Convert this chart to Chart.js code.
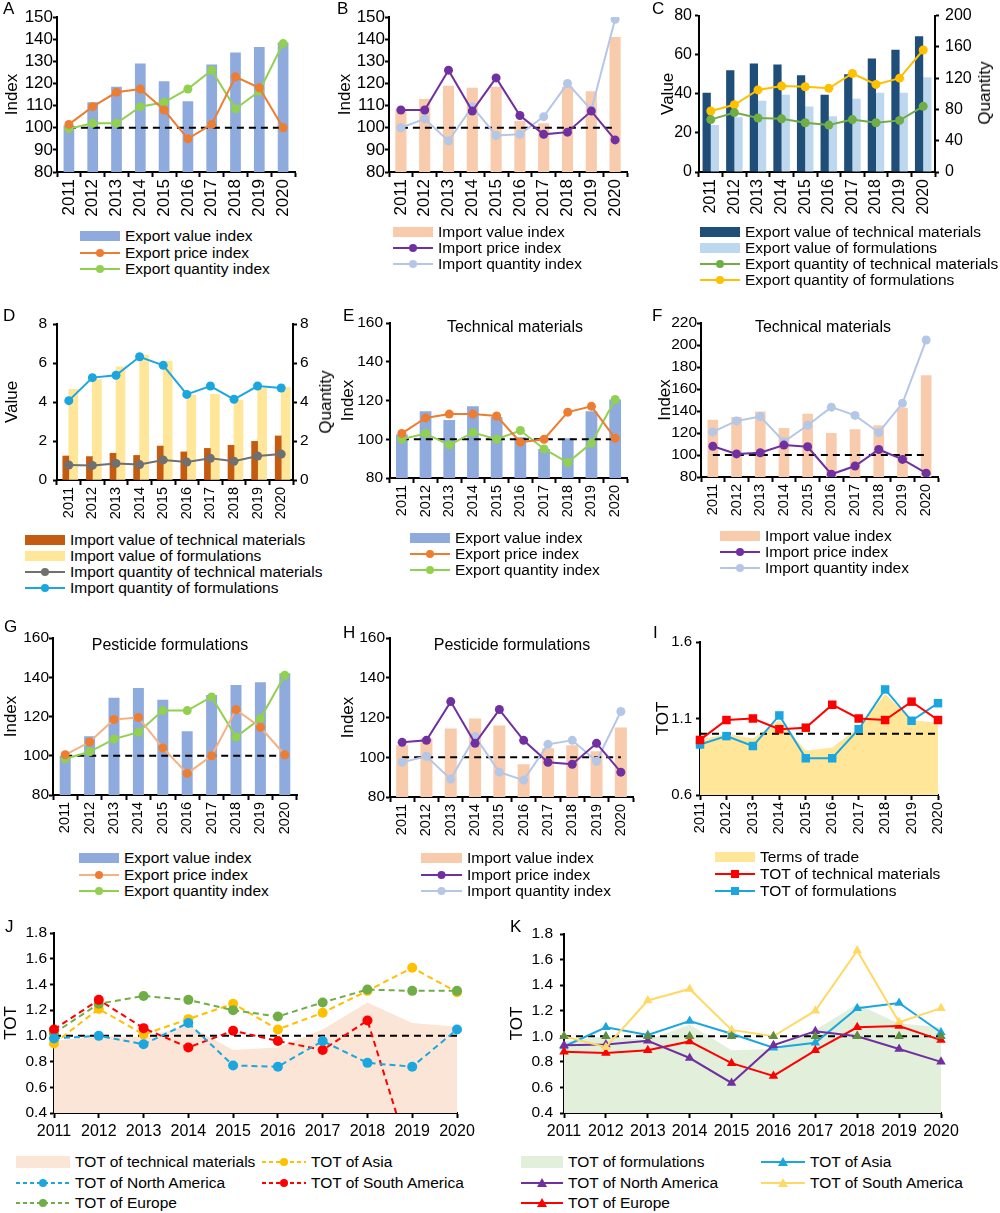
<!DOCTYPE html>
<html>
<head>
<meta charset="utf-8">
<script src="https://cdn.jsdelivr.net/npm/chart.js@4.4.1/dist/chart.umd.min.js"></script>
<style>
  body { margin: 0; background: #fff; font-family: "Liberation Sans", Arial, sans-serif; }
  #page { position: relative; width: 1000px; height: 1213px; overflow: hidden; background: #fff; }
  canvas { position: absolute; }
  .tag { position: absolute; font-size: 17px; line-height: 17px; color: #000; }
  .ttl { position: absolute; font-size: 16px; line-height: 18px; transform: translateX(-50%); white-space: nowrap; }
  .vt { position: absolute; font-size: 17px; line-height: 20px; white-space: nowrap; transform: translate(-50%, -50%) rotate(-90deg); }
  .leg { position: absolute; display: flex; align-items: center; height: 18px; font-size: 15.5px; white-space: nowrap; }
  .leg svg { margin-right: 5px; flex: none; }
</style>
</head>
<body>
<div id="page"></div>
<script>
// values
const years = ['2011', '2012', '2013', '2014', '2015', '2016', '2017', '2018', '2019', '2020'];
const base100 = [100, 100, 100, 100, 100, 100, 100, 100, 100, 100];
const base1 = [1, 1, 1, 1, 1, 1, 1, 1, 1, 1];

// A - exports, all pesticides
const aValue = [101, 111.5, 118.5, 129, 121, 112, 128.5, 134, 136.5, 138.5];
const aPrice = [101.5, 109.5, 116, 117.5, 108, 95, 101.5, 123, 118, 100];
const aQty = [99.5, 102, 102, 109.5, 111.5, 117.5, 126, 108.5, 116.5, 138];
// B - imports, all pesticides
const bValue = [108.5, 113, 119, 118, 118.5, 103, 102, 118.5, 116.5, 141];
const bPrice = [108, 108, 126, 107.5, 122.5, 105.5, 97, 98, 107.5, 94.5];
const bQty = [100, 104, 94, 109.5, 96.5, 97, 105, 120, 108, 149];
// C - export value / quantity
const cValTech = [40.5, 52, 55.5, 55, 49.5, 39.5, 50, 58, 62.5, 69.5];
const cValForm = [24, 28, 36.5, 39.5, 33.5, 28.5, 37.5, 40.5, 40.5, 48.5];
const cQtyTech = [67, 76, 69, 68, 63, 60, 67, 63, 66, 84];
const cQtyForm = [78, 86, 105, 110, 109, 107, 126, 112, 120, 156];
// D - import value / quantity
const dValTech = [1.23, 1.2, 1.37, 1.26, 1.74, 1.44, 1.62, 1.78, 1.98, 2.26];
const dValForm = [4.65, 5.15, 5.8, 6.4, 6.1, 4.35, 4.39, 4.1, 4.7, 4.75];
const dQtyTech = [0.77, 0.75, 0.85, 0.79, 1.03, 0.92, 1.11, 0.96, 1.23, 1.33];
const dQtyForm = [4.07, 5.25, 5.37, 6.32, 5.88, 4.39, 4.82, 4.14, 4.82, 4.72];
// E - exports, technical materials
const eValue = [102.5, 114.5, 110, 117, 111.5, 101, 95, 100.5, 114.5, 120.5];
const ePrice = [103, 111, 113, 113, 112, 98.5, 100, 114, 117, 100.5];
const eQty = [100, 103, 97, 103.5, 100, 104.5, 95, 88, 98, 120.5];
// F - imports, technical materials
const fValue = [132, 134.5, 139.5, 124.5, 137.5, 120, 123.5, 127, 143, 172.5];
const fPrice = [108, 101, 102, 109, 107.5, 82.5, 90, 105, 96, 83.5];
const fQty = [121, 131, 135, 112, 127, 143.5, 136, 120.5, 147, 204.5];
// G - exports, formulations
const gValue = [100, 110, 129.5, 134.5, 128.5, 112.5, 131, 136, 137.5, 142];
const gPrice = [100.5, 107, 118.5, 119.5, 104, 91, 100, 123.5, 114.5, 100.5];
const gQty = [98.5, 102, 108.5, 112, 123, 123, 130, 109.5, 119, 141];
// H - imports, formulations
const hValue = [106, 109.5, 114.5, 119.5, 116, 96.5, 104.5, 106, 103, 115];
const hPrice = [107.5, 108.5, 128, 107, 124, 108.5, 97.5, 96.5, 107, 92.5];
const hQty = [97.5, 100.5, 89, 110.5, 92.5, 88.5, 106.5, 108.5, 98, 123];
// I - terms of trade
const iTot = [0.96, 1.0, 0.97, 1.09, 0.89, 0.91, 1.04, 1.26, 1.09, 1.07];
const iTech = [0.96, 1.09, 1.10, 1.03, 1.04, 1.19, 1.10, 1.09, 1.21, 1.09];
const iForm = [0.93, 0.985, 0.92, 1.12, 0.84, 0.84, 1.03, 1.29, 1.085, 1.2];
// J - TOT of technical materials by region
const jTech = [0.96, 1.0, 0.99, 1.08, 0.89, 0.91, 1.05, 1.26, 1.10, 1.07];
const jAsia = [0.94, 1.21, 1.01, 1.13, 1.25, 1.05, 1.18, 1.35, 1.53, 1.34];
const jNA = [0.98, 1.0, 0.935, 1.10, 0.77, 0.76, 0.96, 0.79, 0.76, 1.05];
const jSA = [1.05, 1.28, 1.06, 0.91, 1.04, 0.96, 0.89, 1.12, 0, null];
const jEU = [1.02, 1.25, 1.31, 1.28, 1.20, 1.15, 1.26, 1.36, 1.35, 1.35];
// K - TOT of formulations by region
const kForm = [0.96, 1.0, 0.97, 1.09, 0.89, 0.90, 1.05, 1.25, 1.10, 1.07];
const kAsia = [0.92, 1.07, 1.01, 1.12, 1.02, 0.91, 0.95, 1.22, 1.26, 1.03];
const kNA = [0.93, 0.935, 0.965, 0.83, 0.635, 0.93, 1.04, 1.0, 0.90, 0.80];
const kSA = [1.0, 0.915, 1.28, 1.37, 1.05, 1.0, 1.2, 1.67, 1.11, 1.22];
const kEU = [0.88, 0.87, 0.89, 0.96, 0.79, 0.69, 0.89, 1.07, 1.08, 0.97];

Chart.defaults.font.family = '"Liberation Sans", Arial, sans-serif';
Chart.defaults.color = '#000';
Chart.defaults.animation = false;
Chart.defaults.plugins.legend.display = false;
Chart.defaults.plugins.tooltip.enabled = false;

const page = document.getElementById('page');

// box = canvas rectangle, area = wanted plot rectangle (page pixels)
function makeChart(box, area, cfg) {
  const cv = document.createElement('canvas');
  cv.width = box.w; cv.height = box.h;
  cv.style.left = box.x + 'px'; cv.style.top = box.y + 'px';
  cv.style.width = box.w + 'px'; cv.style.height = box.h + 'px';
  page.appendChild(cv);
  const leftW = area.l - box.x, rightW = box.x + box.w - area.r;
  const topH = area.t - box.y, botH = box.y + box.h - area.b;
  const sc = cfg.options.scales;
  sc.x.afterFit = s => { s.height = botH; };
  sc.y.afterFit = s => { s.width = leftW; };
  if (sc.y2) sc.y2.afterFit = s => { s.width = rightW; };
  cfg.options.layout = {padding: {left: 0, top: topH, bottom: 0, right: sc.y2 ? 0 : rightW}};
  cfg.options.responsive = false;
  cfg.options.maintainAspectRatio = false;
  return new Chart(cv, cfg);
}

function xAxis(size, rot, pad) {
  return {
    border: {color: '#000', width: 2},
    grid: {drawOnChartArea: false, tickColor: '#000', tickLength: 5, tickWidth: 2},
    ticks: {color: '#000', font: {size: size}, minRotation: rot, maxRotation: rot, autoSkip: false, padding: pad}
  };
}

function yAxis(min, max, step, size, pad, title, tpad, pos, dec) {
  const s = {
    position: pos || 'left', min: min, max: max,
    border: {color: '#000', width: 2},
    grid: {drawOnChartArea: false, tickColor: '#000', tickLength: 4, tickWidth: 2},
    ticks: {color: '#000', font: {size: size}, stepSize: step, padding: pad, autoSkip: false}
  };
  if (dec) s.ticks.callback = v => v.toFixed(dec);
  if (title) s.title = {display: true, text: title, color: '#000', font: {size: 17}, padding: {top: tpad, bottom: 0}};
  return s;
}

function barSet(data, color, pct, extra) {
  return Object.assign({type: 'bar', data: data, backgroundColor: color, order: 3,
    barPercentage: pct, categoryPercentage: 0.9}, extra || {});
}
function lineSet(data, color, extra) {
  return Object.assign({type: 'line', data: data, borderColor: color, backgroundColor: color,
    pointBackgroundColor: color, pointBorderWidth: 0, borderWidth: 2, pointRadius: 4.5,
    tension: 0, order: 1}, extra || {});
}
function refSet(data, extra) {
  return Object.assign({type: 'line', data: data, borderColor: '#000', borderWidth: 2,
    borderDash: [7, 5], pointRadius: 0, order: 2}, extra || {});
}

// index panels: bars + price line + quantity line + 100 reference
function indexPanel(box, area, ymin, ymax, step, tfs, xfs, lpad, tpad, bar, price, qty) {
  return makeChart(box, area, {
    type: 'bar',
    data: {
      labels: years,
      datasets: [
        barSet(bar.data, bar.color, bar.pct),
        refSet(base100),
        lineSet(price.data, price.color, price.extra),
        lineSet(qty.data, qty.color, qty.extra)
      ]
    },
    options: {scales: {x: xAxis(xfs, 90, 2), y: yAxis(ymin, ymax, step, tfs, lpad, 'Index', tpad)}}
  });
}

const BLUEBAR = '#8FAADC', ORANGE = '#ED7D31', GREEN = '#92D050';
const PEACH = '#F8CBAD', PURPLE = '#7030A0', LBLUE = '#B4C7E7';
const CYAN = '#1CA6E0', RED = '#FF0000';

// A
indexPanel({x: 0, y: 0, w: 330, h: 224}, {l: 57, t: 17, r: 295, b: 172}, 80, 150, 10, 17, 17, 0, 2,
  {data: aValue, color: BLUEBAR, pct: 0.5}, {data: aPrice, color: ORANGE}, {data: aQty, color: GREEN});
// B
indexPanel({x: 330, y: 0, w: 330, h: 224}, {l: 389, t: 17, r: 627, b: 172}, 80, 150, 10, 17, 17, 0, 5,
  {data: bValue, color: PEACH, pct: 0.52}, {data: bPrice, color: PURPLE}, {data: bQty, color: LBLUE});

// C
makeChart({x: 655, y: 0, w: 345, h: 222}, {l: 699, t: 15, r: 935, b: 172}, {
  type: 'bar',
  data: {
    labels: years,
    datasets: [
      barSet(cValTech, '#1F4E79', 1.0, {categoryPercentage: 0.7}),
      barSet(cValForm, '#BDD7EE', 1.0, {categoryPercentage: 0.7}),
      lineSet(cQtyTech, '#70AD47', {yAxisID: 'y2'}),
      lineSet(cQtyForm, '#FFC000', {yAxisID: 'y2'})
    ]
  },
  options: {scales: {
    x: xAxis(16, 90, 2),
    y: yAxis(0, 80, 20, 16, 3, 'Value', 3),
    y2: yAxis(0, 200, 40, 16, 6, null, 0, 'right')
  }}
});

// D
makeChart({x: 0, y: 300, w: 345, h: 230}, {l: 57, t: 324, r: 293, b: 480}, {
  type: 'bar',
  data: {
    labels: years,
    datasets: [
      barSet(dValTech, '#C55A11', 1.0, {categoryPercentage: 0.66, barThickness: 6}),
      barSet(dValForm, '#FFE699', 1.0, {categoryPercentage: 0.66, barThickness: 9}),
      lineSet(dQtyTech, '#707070', {yAxisID: 'y2'}),
      lineSet(dQtyForm, CYAN, {yAxisID: 'y2'})
    ]
  },
  options: {scales: {
    x: xAxis(14.5, 90, 2),
    y: yAxis(0, 8, 2, 15.5, 6, 'Value', 2),
    y2: yAxis(0, 8, 2, 15.5, 3, null, 0, 'right')
  }}
});

// E
indexPanel({x: 330, y: 300, w: 330, h: 230}, {l: 390, t: 323, r: 627, b: 478}, 80, 160, 20, 15.5, 14.5, 3, 8,
  {data: eValue, color: BLUEBAR, pct: 0.55}, {data: ePrice, color: ORANGE}, {data: eQty, color: GREEN});
// F
indexPanel({x: 655, y: 300, w: 345, h: 230}, {l: 701, t: 323, r: 938, b: 477}, 80, 220, 20, 15.5, 14.5, 0, 0,
  {data: fValue, color: PEACH, pct: 0.5}, {data: fPrice, color: PURPLE}, {data: fQty, color: LBLUE});
// G
indexPanel({x: 0, y: 615, w: 330, h: 230}, {l: 53, t: 638, r: 297, b: 795}, 80, 160, 20, 15.5, 14.5, 0, 1,
  {data: gValue, color: BLUEBAR, pct: 0.5},
  {data: gPrice, color: '#F4B183', extra: {pointBackgroundColor: ORANGE}}, {data: gQty, color: GREEN});
// H
indexPanel({x: 330, y: 615, w: 330, h: 230}, {l: 390, t: 638, r: 633, b: 797}, 80, 160, 20, 15.5, 14.5, 1, 8,
  {data: hValue, color: PEACH, pct: 0.55}, {data: hPrice, color: PURPLE}, {data: hQty, color: LBLUE});

// I
makeChart({x: 650, y: 615, w: 350, h: 230}, {l: 700, t: 642, r: 938, b: 795}, {
  type: 'line',
  data: {
    labels: years,
    datasets: [
      lineSet(iTot, '#FFE699', {fill: 'start', borderWidth: 0, pointRadius: 0, order: 4}),
      refSet(base1),
      lineSet(iTech, RED, {pointStyle: 'rect', pointRadius: 6}),
      lineSet(iForm, CYAN, {pointStyle: 'rect', pointRadius: 6})
    ]
  },
  options: {scales: {x: xAxis(14.5, 90, 2), y: yAxis(0.6, 1.6, 0.5, 15, 4, 'TOT', 3, 'left', 1)}}
});

// J
const dash = {borderDash: [6, 4], pointRadius: 5};
makeChart({x: 0, y: 905, w: 490, h: 240}, {l: 54, t: 933, r: 457, b: 1113}, {
  type: 'line',
  data: {
    labels: years,
    datasets: [
      lineSet(jTech, '#FBE5D6', {fill: 'start', borderWidth: 0, pointRadius: 0, order: 4}),
      refSet(base1),
      lineSet(jNA, CYAN, dash),
      lineSet(jSA, RED, Object.assign({clip: {left: 10, top: 10, right: 10, bottom: 0}}, dash)),
      lineSet(jEU, '#70AD47', dash),
      lineSet(jAsia, '#FFC000', dash)
    ]
  },
  options: {scales: {x: xAxis(16, 0, 4), y: yAxis(0.4, 1.8, 0.2, 15.5, 3, 'TOT', 1, 'left', 1)}}
});

// K
const tri = {pointStyle: 'triangle', pointRadius: 5.5};
makeChart({x: 490, y: 905, w: 510, h: 240}, {l: 564, t: 934, r: 941, b: 1113}, {
  type: 'line',
  data: {
    labels: years,
    datasets: [
      lineSet(kForm, '#E2EFDA', {fill: 'start', borderWidth: 0, pointRadius: 0, order: 4}),
      refSet(base1),
      lineSet(kSA, '#FFD966', tri),
      lineSet(kNA, PURPLE, tri),
      lineSet(kEU, RED, tri),
      lineSet(kAsia, CYAN, tri),
      lineSet(base1, '#5E8E3E', Object.assign({showLine: false, order: 0}, tri))
    ]
  },
  options: {scales: {x: xAxis(16, 0, 4), y: yAxis(0.4, 1.8, 0.2, 15.5, 7, 'TOT', 17, 'left', 1)}}
});

// text on top of the canvases
function addDiv(cls, html, left, top) {
  const d = document.createElement('div');
  d.className = cls; d.innerHTML = html;
  d.style.left = left + 'px'; d.style.top = top + 'px';
  page.appendChild(d);
  return d;
}
[['A', 3, 0], ['B', 337, 0], ['C', 652, 0], ['D', 3, 307], ['E', 343, 307], ['F', 652, 307],
 ['G', 4, 618], ['H', 343, 624], ['I', 653, 624], ['J', 5, 918], ['K', 510, 918]]
  .forEach(t => addDiv('tag', t[0], t[1], t[2]));

addDiv('ttl', 'Technical materials', 515, 318);
addDiv('ttl', 'Technical materials', 823, 318);
addDiv('ttl', 'Pesticide formulations', 170, 636);
addDiv('ttl', 'Pesticide formulations', 512, 636);
addDiv('vt', 'Quantity', 985, 93);
addDiv('vt', 'Quantity', 326, 402);

function swatch(it, w) {
  const h = 16, c = 8, m = w / 2;
  let s = '<svg width="' + w + '" height="' + h + '">';
  if (it.kind === 'bar') {
    s += '<rect x="0" y="' + (c - 5) + '" width="' + w + '" height="10" fill="' + it.color + '"/>';
  } else if (it.kind === 'area') {
    s += '<rect x="0" y="' + (c - 6) + '" width="' + w + '" height="12" fill="' + it.color + '"/>';
  } else {
    s += '<line x1="0" y1="' + c + '" x2="' + w + '" y2="' + c + '" stroke="' + it.color +
      '" stroke-width="2"' + (it.dash ? ' stroke-dasharray="4,3"' : '') + '/>';
    const pc = it.pc || it.color;
    if (it.marker === 'rect') s += '<rect x="' + (m - 4) + '" y="' + (c - 4) + '" width="8" height="8" fill="' + pc + '"/>';
    else if (it.marker === 'tri') s += '<polygon points="' + m + ',' + (c - 5) + ' ' + (m + 5) + ',' + (c + 4) + ' ' + (m - 5) + ',' + (c + 4) + '" fill="' + pc + '"/>';
    else s += '<circle cx="' + m + '" cy="' + c + '" r="4" fill="' + pc + '"/>';
  }
  return s + '</svg>';
}
function legend(x, y, dy, w, items) {
  items.forEach((it, i) => {
    addDiv('leg', swatch(it, w) + '<span>' + it.label + '</span>', x, y + i * dy - 9);
  });
}

legend(80, 236, 16.5, 40, [
  {kind: 'bar', color: BLUEBAR, label: 'Export value index'},
  {color: ORANGE, label: 'Export price index'},
  {color: GREEN, label: 'Export quantity index'}]);
legend(393, 232, 16, 40, [
  {kind: 'bar', color: PEACH, label: 'Import value index'},
  {color: PURPLE, label: 'Import price index'},
  {color: LBLUE, label: 'Import quantity index'}]);
legend(700, 232, 16, 40, [
  {kind: 'bar', color: '#1F4E79', label: 'Export value of technical materials'},
  {kind: 'bar', color: '#BDD7EE', label: 'Export value of formulations'},
  {color: '#70AD47', label: 'Export quantity of technical materials'},
  {color: '#FFC000', label: 'Export quantity of formulations'}]);
legend(25, 540, 16, 40, [
  {kind: 'bar', color: '#C55A11', label: 'Import value of technical materials'},
  {kind: 'bar', color: '#FFE699', label: 'Import value of formulations'},
  {color: '#707070', label: 'Import quantity of technical materials'},
  {color: CYAN, label: 'Import quantity of formulations'}]);
legend(410, 538, 16, 40, [
  {kind: 'bar', color: BLUEBAR, label: 'Export value index'},
  {color: ORANGE, label: 'Export price index'},
  {color: GREEN, label: 'Export quantity index'}]);
legend(720, 536, 16, 40, [
  {kind: 'bar', color: PEACH, label: 'Import value index'},
  {color: PURPLE, label: 'Import price index'},
  {color: LBLUE, label: 'Import quantity index'}]);
legend(79, 858, 16.5, 40, [
  {kind: 'bar', color: BLUEBAR, label: 'Export value index'},
  {color: '#F4B183', pc: ORANGE, label: 'Export price index'},
  {color: GREEN, label: 'Export quantity index'}]);
legend(421, 858, 16.5, 41, [
  {kind: 'bar', color: PEACH, label: 'Import value index'},
  {color: PURPLE, label: 'Import price index'},
  {color: LBLUE, label: 'Import quantity index'}]);
legend(715, 857, 17, 40, [
  {kind: 'bar', color: '#FFE699', label: 'Terms of trade'},
  {color: RED, marker: 'rect', label: 'TOT of technical materials'},
  {color: CYAN, marker: 'rect', label: 'TOT of formulations'}]);

legend(16, 1162, 20.5, 54, [
  {kind: 'area', color: '#FBE5D6', label: 'TOT of technical materials'},
  {color: CYAN, dash: true, label: 'TOT of North America'},
  {color: '#70AD47', dash: true, label: 'TOT of Europe'}]);
legend(262, 1162, 20.5, 44, [
  {color: '#FFC000', dash: true, label: 'TOT of Asia'},
  {color: RED, dash: true, label: 'TOT of South America'}]);
legend(521, 1162, 20.5, 42, [
  {kind: 'area', color: '#E2EFDA', label: 'TOT of formulations'},
  {color: PURPLE, marker: 'tri', label: 'TOT of North America'},
  {color: RED, marker: 'tri', label: 'TOT of Europe'}]);
legend(761, 1162, 20.5, 44, [
  {color: CYAN, marker: 'tri', label: 'TOT of Asia'},
  {color: '#FFD966', marker: 'tri', label: 'TOT of South America'}]);
</script>
</body>
</html>
